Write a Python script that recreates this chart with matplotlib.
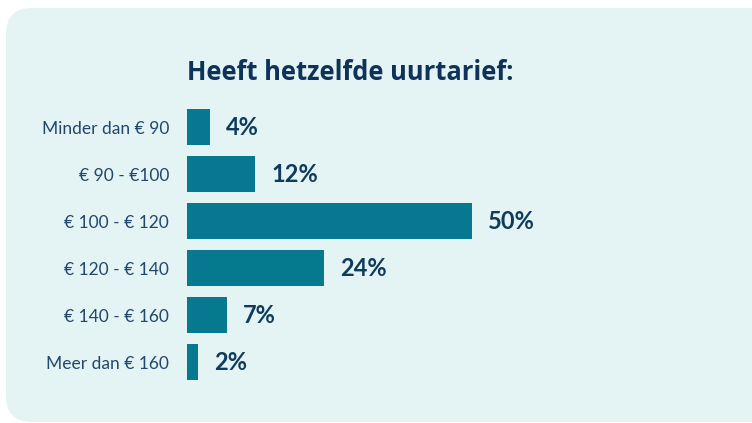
import matplotlib
matplotlib.use("Agg")
import matplotlib.pyplot as plt
from matplotlib.patches import FancyBboxPatch

categories = ["Minder dan € 90", "€ 90 - €100", "€ 100 - € 120", "€ 120 - € 140", "€ 140 - € 160", "Meer dan € 160"]
values = [4, 12, 50, 24, 7, 2]
value_labels = ["4%", "12%", "50%", "24%", "7%", "2%"]
title = "Heeft hetzelfde uurtarief:"

plt.rcParams["font.family"] = ["Lato", "DejaVu Sans"]

fig = plt.figure(figsize=(7.52, 4.23), dpi=100)
fig.patch.set_facecolor("white")

# lichtblauw paneel met afgeronde hoeken
panel = FancyBboxPatch((0.06, 0.01), 7.7, 4.14,
                       boxstyle="round,pad=0,rounding_size=0.26",
                       transform=fig.dpi_scale_trans, facecolor="#e4f4f5",
                       edgecolor="none", zorder=0)
fig.patches.append(panel)

W, H = 752, 423
ax = fig.add_axes([187 / W, 1 - 385.5 / H, 513 / W, 282 / H])
ax.set_zorder(2)
ax.set_facecolor("none")
ypos = list(range(len(categories)))
ax.barh(ypos, values, height=0.766, color="#06788f")
ax.set_xlim(0, 90)
ax.set_ylim(len(categories) - 0.5, -0.5)
for s in ax.spines.values():
    s.set_visible(False)
ax.set_xticks([])
ax.set_yticks(ypos)
ax.set_yticklabels(categories, fontsize=12.5, color="#23476a")
ax.tick_params(axis="y", length=0, pad=13)

for y, v, lab in zip(ypos, values, value_labels):
    ax.annotate(lab, (v, y), xytext=(11.5, 0), textcoords="offset points",
                va="center", ha="left", fontsize=17, fontweight="bold",
                color="#0f3b5c")

fig.text(187 / W, 1 - 80 / H, title, fontsize=18.4, fontweight="bold",
         family=["Open Sans", "DejaVu Sans"],
         color="#0f3358", ha="left", va="baseline", zorder=3)

fig.savefig("out.png", dpi=100)
